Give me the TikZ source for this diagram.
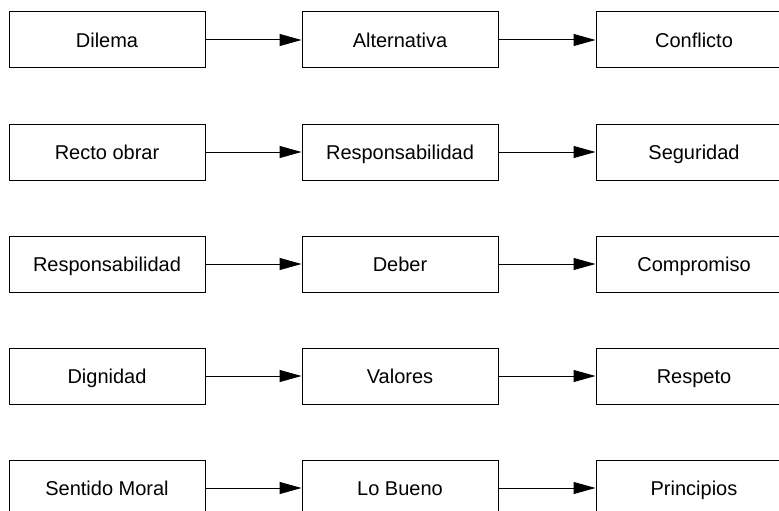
\documentclass[tikz,border=0pt]{standalone}
\usepackage{fontspec}
\setmainfont{Liberation Sans}
\usetikzlibrary{arrows.meta}
\tikzset{caja/.style={draw, line width=1pt, minimum width=196pt, minimum height=56pt, inner sep=0pt, text height=14.3pt, text depth=0pt, font=\fontsize{20}{24}\selectfont}}
\begin{document}
\begin{tikzpicture}[x=1pt,y=-1pt,>={Triangle[length=22pt,width=12pt]}]
        \useasboundingbox (0,0) rectangle (779,511);
        \clip (0,0) rectangle (779,511);
        \foreach \fila/\y/\a/\b/\c in {1/40/Dilema/Alternativa/Conflicto,
                2/152/Recto obrar/Responsabilidad/Seguridad,
                3/264/Responsabilidad/Deber/Compromiso,
                4/376/Dignidad/Valores/Respeto,
                5/488/Sentido Moral/Lo Bueno/Principios}
            {
                \node[caja] (a\fila) at (107,\y) {\a};
                \node[caja] (b\fila) at (400,\y) {\b};
                \node[caja] (c\fila) at (694,\y) {\c};
                \draw[->, line width=1pt] (a\fila) -- (b\fila);
                \draw[->, line width=1pt] (b\fila) -- (c\fila);
            }
    \end{tikzpicture}
\end{document}
